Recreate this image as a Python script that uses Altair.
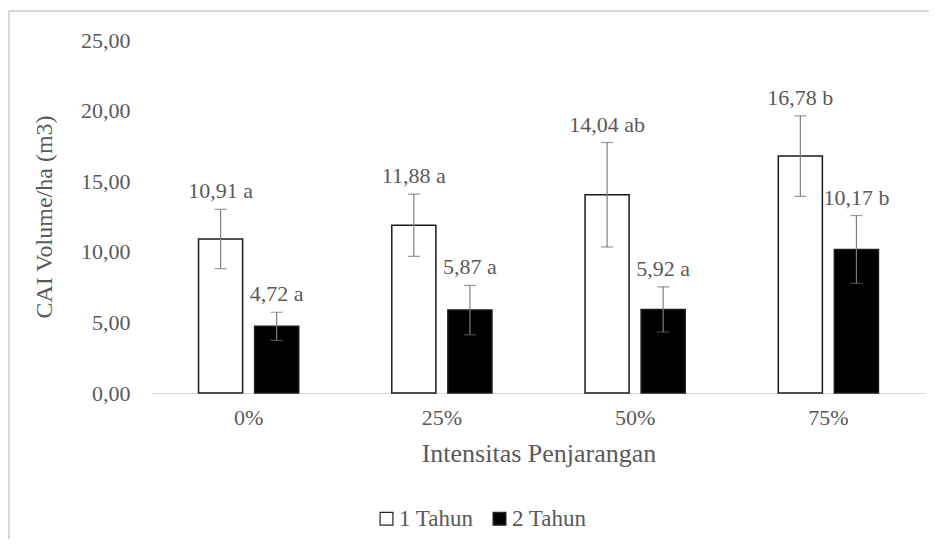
import altair as alt
import pandas as pd

categories = ["0%", "25%", "50%", "75%"]
groups = ["1 Tahun", "2 Tahun"]
values_1 = [10.91, 11.88, 14.04, 16.78]
values_2 = [4.72, 5.87, 5.92, 10.17]
err_1 = [2.1, 2.2, 3.7, 2.85]
err_2 = [1.0, 1.75, 1.6, 2.4]
letters_1 = ["a", "a", "ab", "b"]
letters_2 = ["a", "a", "a", "b"]

rows = []
for i, c in enumerate(categories):
    for g, v, e, l in ((groups[0], values_1[i], err_1[i], letters_1[i]),
                       (groups[1], values_2[i], err_2[i], letters_2[i])):
        rows.append({
            "cat": c, "grp": g, "val": v, "lo": v - e, "hi": v + e,
            "label": f"{v:.2f}".replace(".", ",") + " " + l,
        })
df = pd.DataFrame(rows)

FONT = "Liberation Serif"
GREY = "#595959"

x_enc = alt.X("cat:N", sort=categories, scale=alt.Scale(paddingInner=0, paddingOuter=0),
              axis=alt.Axis(title="Intensitas Penjarangan", labelAngle=0, ticks=False,
                            grid=False, domainColor="#d9d9d9", labelPadding=14,
                            titlePadding=12, titleFontSize=26))
xo_enc = alt.XOffset("grp:N", sort=groups,
                     scale=alt.Scale(paddingInner=0.214, paddingOuter=0.83))
y_scale = alt.Scale(domain=[0, 25], nice=False)

base = alt.Chart(df)

bars = base.mark_bar(stroke="#1a1a1a", strokeWidth=1.5).encode(
    x=x_enc,
    xOffset=xo_enc,
    y=alt.Y("val:Q", scale=y_scale,
            axis=alt.Axis(title="CAI Volume/ha (m3)", values=[0, 5, 10, 15, 20, 25],
                          format=".2f", labelExpr="replace(datum.label, '.', ',')",
                          grid=False, domain=False, ticks=False, labelPadding=22,
                          titlePadding=24, titleFontSize=24)),
    fill=alt.Fill("grp:N", sort=groups,
                  scale=alt.Scale(domain=groups, range=["#ffffff", "#000000"]),
                  legend=alt.Legend(title=None, orient="none", legendX=223, legendY=467,
                                    direction="horizontal", symbolType="square",
                                    symbolSize=165, symbolStrokeColor="#262626",
                                    symbolStrokeWidth=1.2, labelFontSize=23,
                                    labelFont=FONT, labelColor=GREY, labelOffset=1,
                                    columnPadding=14, padding=0)),
)

rules = base.mark_rule(color="#7f7f7f", strokeWidth=1.2).encode(
    x=alt.X("cat:N", sort=categories), xOffset=alt.XOffset("grp:N", sort=groups),
    y=alt.Y("lo:Q", scale=y_scale), y2="hi:Q",
)
caps_hi = base.mark_tick(color="#6f6f6f", size=12, thickness=1.2).encode(
    x=alt.X("cat:N", sort=categories), xOffset=alt.XOffset("grp:N", sort=groups),
    y=alt.Y("hi:Q", scale=y_scale),
)
caps_lo = base.mark_tick(color="#6f6f6f", size=12, thickness=1.2).encode(
    x=alt.X("cat:N", sort=categories), xOffset=alt.XOffset("grp:N", sort=groups),
    y=alt.Y("lo:Q", scale=y_scale),
)
labels = base.mark_text(font=FONT, fontSize=22, color=GREY, baseline="middle", dy=-18).encode(
    x=alt.X("cat:N", sort=categories), xOffset=alt.XOffset("grp:N", sort=groups),
    y=alt.Y("hi:Q", scale=y_scale), text="label:N",
)

border_df = pd.DataFrame({"k": [0]})
border_left = alt.Chart(border_df).mark_rule(color="#d9d9d9", strokeWidth=2).encode(
    x=alt.value(-143), y=alt.value(-29), y2=alt.value(520))
border_top = alt.Chart(border_df).mark_rule(color="#d9d9d9", strokeWidth=2).encode(
    x=alt.value(-143), x2=alt.value(790), y=alt.value(-29))

chart = alt.layer(border_left, border_top, bars, rules, caps_hi, caps_lo, labels).properties(
    width=773, height=353,
    background="#ffffff",
    autosize=alt.AutoSizeParams(type="none"),
    padding={"left": 144, "top": 32, "right": 4, "bottom": 146},
).configure_view(stroke=None).configure_axis(
    labelFont=FONT, titleFont=FONT, labelFontSize=22, titleFontSize=25,
    labelColor=GREY, titleColor=GREY, titleFontWeight="normal",
).configure_legend(labelFont=FONT)

chart.save("out.html", embed_options={"renderer": "svg", "actions": False})
